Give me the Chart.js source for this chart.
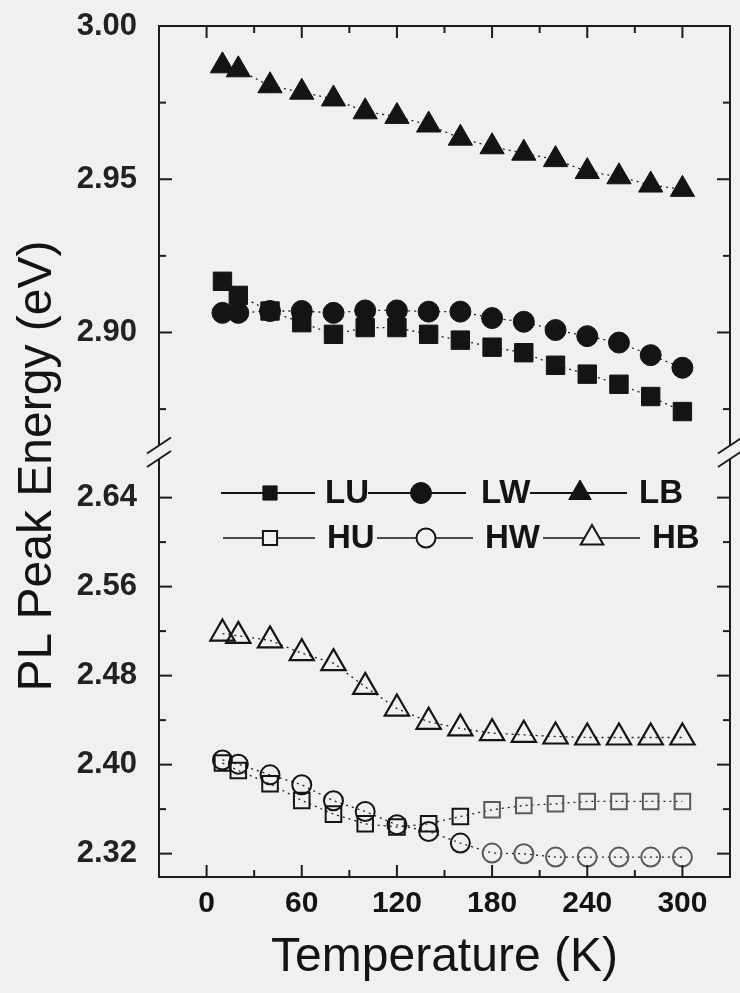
<!DOCTYPE html>
<html>
<head>
<meta charset="utf-8">
<script src="https://cdn.jsdelivr.net/npm/chart.js@4.4.1/dist/chart.umd.min.js"></script>
<style>
  html, body { margin: 0; padding: 0; background: #f0f0f0; }
  #wrap { width: 740px; height: 993px; position: relative; }
</style>
</head>
<body>
<div id="wrap"><canvas id="c" width="740" height="993"></canvas></div>
<script>
// Temperature (K) at which each PL spectrum was taken
const temperatures = [10, 20, 40, 60, 80, 100, 120, 140, 160, 180, 200, 220, 240, 260, 280, 300];

// PL peak energies (eV), low-energy peaks
const LU = [2.9167, 2.9121, 2.9070, 2.9032, 2.8994, 2.9016, 2.9016, 2.8994, 2.8975, 2.8952, 2.8934, 2.8893, 2.8864, 2.8831, 2.8791, 2.8742];
const LW = [2.9064, 2.9064, 2.9070, 2.9070, 2.9064, 2.9072, 2.9072, 2.9068, 2.9068, 2.9047, 2.9035, 2.9008, 2.8988, 2.8967, 2.8926, 2.8885];
const LB = [2.9870, 2.9857, 2.9805, 2.9784, 2.9762, 2.9720, 2.9705, 2.9677, 2.9634, 2.9606, 2.9585, 2.9564, 2.9525, 2.9508, 2.9481, 2.9467];

// PL peak energies (eV), high-energy peaks
const HU = [2.4014, 2.3947, 2.3828, 2.3678, 2.3555, 2.3468, 2.3439, 2.3468, 2.3534, 2.3594, 2.3633, 2.3648, 2.3669, 2.3669, 2.3669, 2.3669];
const HW = [2.4042, 2.4004, 2.3908, 2.3819, 2.3675, 2.3579, 2.3459, 2.3399, 2.3295, 2.3205, 2.3199, 2.3169, 2.3169, 2.3169, 2.3169, 2.3169];
const HB = [2.5178, 2.5157, 2.5117, 2.5002, 2.4912, 2.4699, 2.4504, 2.4385, 2.4325, 2.4283, 2.4268, 2.4253, 2.4244, 2.4244, 2.4244, 2.4244];

// Axis tick labels
const xTicks = [0, 60, 120, 180, 240, 300];
const yHighTicks = [2.90, 2.95, 3.00];
const yLowTicks = [2.32, 2.40, 2.48, 2.56, 2.64];

// Legend layout: two rows of series names
const legendRows = [['LU', 'LW', 'LB'], ['HU', 'HW', 'HB']];

const FONT = "'Liberation Sans', Arial, Helvetica, sans-serif";
const INK = '#141414';

function pts(vals) {
  return temperatures.map((t, i) => ({ x: t, y: vals[i] }));
}

// open markers above 160 K print lighter
const fadedInk = ctx => (ctx.dataIndex >= 9 ? '#5a5a5a' : INK);

const common = {
  showLine: true,
  borderColor: '#222',
  borderWidth: 1.3,
  borderDash: [2, 4],
  tension: 0,
  fill: false,
};

const datasets = [
  { ...common, label: 'LU', data: pts(LU), yAxisID: 'yHigh', pointStyle: 'rect', pointRadius: 13,
    pointBackgroundColor: INK, pointBorderColor: INK, pointBorderWidth: 1 },
  { ...common, label: 'LW', data: pts(LW), yAxisID: 'yHigh', pointStyle: 'circle', pointRadius: 10.5,
    pointBackgroundColor: INK, pointBorderColor: INK, pointBorderWidth: 1 },
  { ...common, label: 'LB', data: pts(LB), yAxisID: 'yHigh', pointStyle: 'triangle', pointRadius: 14,
    pointBackgroundColor: INK, pointBorderColor: INK, pointBorderWidth: 1 },
  { ...common, label: 'HU', data: pts(HU), yAxisID: 'yLow', pointStyle: 'rect', pointRadius: 11,
    pointBackgroundColor: 'rgba(0,0,0,0)', pointBorderColor: fadedInk, pointBorderWidth: 2 },
  { ...common, label: 'HW', data: pts(HW), yAxisID: 'yLow', pointStyle: 'circle', pointRadius: 9.5,
    pointBackgroundColor: 'rgba(0,0,0,0)', pointBorderColor: fadedInk, pointBorderWidth: 2 },
  { ...common, label: 'HB', data: pts(HB), yAxisID: 'yLow', pointStyle: 'triangle', pointRadius: 14,
    pointBackgroundColor: 'rgba(0,0,0,0)', pointBorderColor: INK, pointBorderWidth: 2.2 },
];

const styleOf = {};
datasets.forEach(d => { styleOf[d.label] = d; });

function setTicks(list) {
  return scale => { scale.ticks = list.map(v => ({ value: v })); };
}

// fixed box sizes, no extra edge padding for the outer labels
function fixBox(w, h) {
  return s => {
    if (w !== null) s.width = w;
    if (h !== null) s.height = h;
    s.paddingTop = 0; s.paddingBottom = 0; s.paddingLeft = 0; s.paddingRight = 0;
  };
}

// midpoints between majors, plus one step past each end, kept inside the scale
function minorValues(majors, min, max) {
  const step = majors[1] - majors[0];
  const out = [];
  for (let i = -1; i < majors.length; i++) {
    const v = majors[0] + step * (i + 0.5);
    if (v > min && v < max) out.push(v);
  }
  return out;
}

// Frame, inward ticks and the axis break marks
const framePlugin = {
  id: 'frame',
  afterDraw(chart) {
    const { ctx, chartArea } = chart;
    const { left, right, top, bottom } = chartArea;
    const sx = chart.scales.x, hi = chart.scales.yHigh, lo = chart.scales.yLow;
    const yB = (hi.bottom + lo.top) / 2;

    ctx.save();
    ctx.strokeStyle = '#1c1c1c';
    ctx.lineWidth = 2;
    ctx.lineCap = 'butt';
    const seg = (x1, y1, x2, y2) => { ctx.beginPath(); ctx.moveTo(x1, y1); ctx.lineTo(x2, y2); ctx.stroke(); };

    seg(left - 1, top, right + 1, top);
    seg(left - 1, bottom, right + 1, bottom);
    [left, right].forEach(x => {
      seg(x, top, x, yB - 7);
      seg(x, yB + 7, x, bottom);
      seg(x - 12, yB - 6.5 + 8, x + 12, yB - 6.5 - 8);
      seg(x - 12, yB + 7 + 8, x + 12, yB + 7 - 8);
    });

    // x ticks (bottom and top, pointing inward)
    xTicks.forEach(v => {
      const p = sx.getPixelForValue(v);
      seg(p, bottom, p, bottom - 12);
      seg(p, top, p, top + 12);
    });
    minorValues(xTicks, sx.min + 1, sx.max - 1).forEach(v => {
      const p = sx.getPixelForValue(v);
      seg(p, bottom, p, bottom - 7);
      seg(p, top, p, top + 7);
    });

    // y ticks on both sides
    const yTicksFor = (scale, majors) => {
      majors.forEach(v => {
        const p = scale.getPixelForValue(v);
        seg(left, p, left + 13, p);
        seg(right, p, right - 13, p);
      });
      minorValues(majors, scale.min, scale.max).forEach(v => {
        const p = scale.getPixelForValue(v);
        if (p < scale.top + 6 || p > scale.bottom - 6) return;
        seg(left, p, left + 7, p);
        seg(right, p, right - 7, p);
      });
    };
    yTicksFor(hi, yHighTicks);
    yTicksFor(lo, yLowTicks);

    // y axis title
    ctx.fillStyle = INK;
    ctx.font = `48px ${FONT}`;
    ctx.textAlign = 'center';
    ctx.textBaseline = 'middle';
    ctx.translate(38, 466);
    ctx.rotate(-Math.PI / 2);
    ctx.fillText('PL Peak Energy (eV)', 0, 0);
    ctx.restore();
  }
};

// Two-row legend drawn inside the plot
const legendPlugin = {
  id: 'innerLegend',
  afterDatasetsDraw(chart) {
    const { ctx } = chart;
    const rowY = [493, 538];
    const slots = [
      [[221, 315, 270, 325], [368, 466, 421, 481], [530, 627, 580, 639]],
      [[223, 315, 270, 327], [377, 473, 426, 485], [543, 640, 592, 652]],
    ];
    ctx.save();
    legendRows.forEach((row, r) => {
      const y = rowY[r];
      row.forEach((name, c) => {
        const [x1, x2, mx, tx] = slots[r][c];
        const d = styleOf[name];
        ctx.strokeStyle = INK;
        ctx.lineWidth = r === 0 ? 2 : 1.4;
        ctx.setLineDash([]);
        ctx.beginPath(); ctx.moveTo(x1, y); ctx.lineTo(x2, y); ctx.stroke();

        const filled = r === 0;
        ctx.fillStyle = filled ? INK : '#f0f0f0';
        ctx.strokeStyle = INK;
        ctx.lineWidth = filled ? 1 : 2;
        Chart.helpers.drawPoint(ctx, {
          pointStyle: d.pointStyle,
          radius: d.pointStyle === 'rect' ? 10 : (d.pointStyle === 'circle' ? (filled ? 10.5 : 9.5) : 13),
          rotation: 0,
          borderWidth: filled ? 1 : 2,
        }, mx, y);

        ctx.fillStyle = INK;
        ctx.font = `bold 33px ${FONT}`;
        ctx.textAlign = 'left';
        ctx.textBaseline = 'middle';
        ctx.fillText(name, tx, y + 1);
      });
    });
    ctx.restore();
  }
};

const yTickFont = { family: FONT, size: 31, weight: 'bold' };

new Chart(document.getElementById('c'), {
  type: 'line',
  data: { datasets },
  options: {
    responsive: false,
    animation: false,
    devicePixelRatio: 1,
    events: [],
    layout: { autoPadding: false, padding: { top: 26, right: 10, left: 0, bottom: 0 } },
    plugins: { legend: { display: false }, tooltip: { enabled: false } },
    scales: {
      x: {
        type: 'linear',
        position: 'bottom',
        min: -30,
        max: 330,
        afterBuildTicks: setTicks(xTicks),
        grid: { display: false, drawTicks: false },
        border: { display: false },
        ticks: { padding: 9, color: INK, font: { family: FONT, size: 30, weight: 'bold' },
                 callback: v => String(v), maxRotation: 0, autoSkip: false },
        title: { display: true, text: 'Temperature (K)', color: INK,
                 font: { family: FONT, size: 48 }, padding: { top: 0, bottom: 6 } },
        afterFit: fixBox(null, 116),
      },
      yLow: {
        type: 'linear',
        position: 'left',
        stack: 'energy',
        stackWeight: 425,
        min: 2.299,
        max: 2.681,
        afterBuildTicks: setTicks(yLowTicks),
        grid: { display: false, drawTicks: false },
        border: { display: false },
        ticks: { padding: 22, color: '#222', font: yTickFont, callback: v => v.toFixed(2), autoSkip: false },
        afterFit: fixBox(159, null),
      },
      yHigh: {
        type: 'linear',
        position: 'left',
        stack: 'energy',
        stackWeight: 426,
        min: 2.861,
        max: 3.0,
        afterBuildTicks: setTicks(yHighTicks),
        grid: { display: false, drawTicks: false },
        border: { display: false },
        ticks: { padding: 22, color: '#222', font: yTickFont, callback: v => v.toFixed(2), autoSkip: false },
        afterFit: fixBox(159, null),
      },
    },
  },
  plugins: [legendPlugin, framePlugin],
});
</script>
</body>
</html>
